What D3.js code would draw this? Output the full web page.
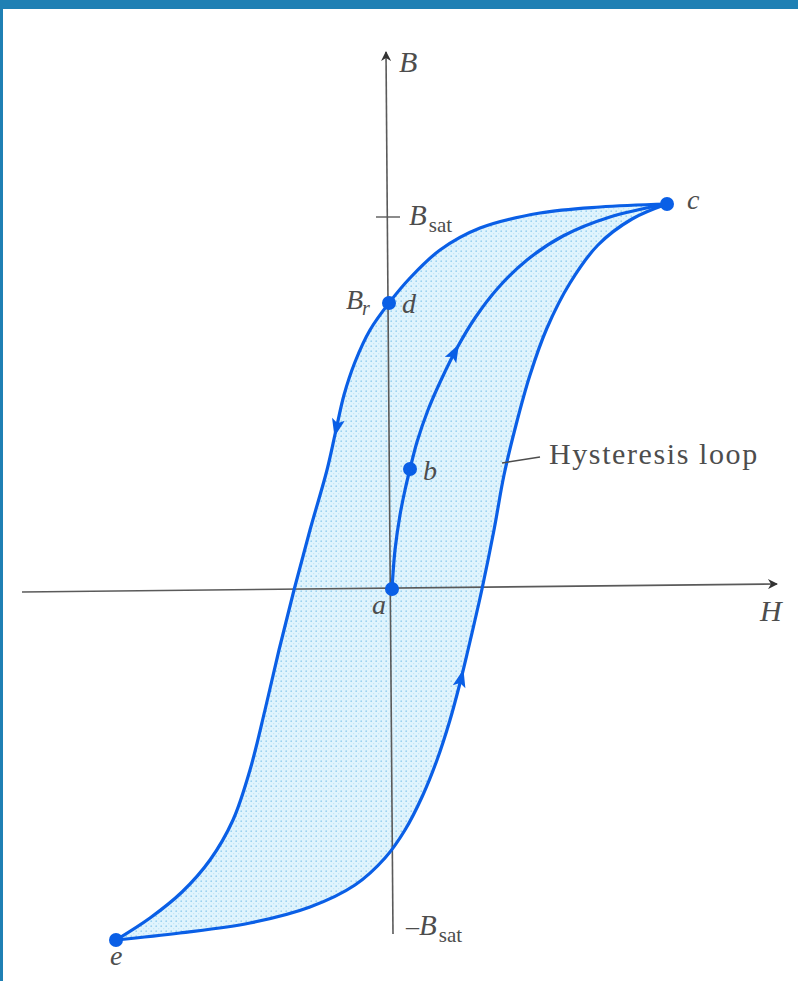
<!DOCTYPE html>
<html><head><meta charset="utf-8">
<script src="https://cdn.jsdelivr.net/npm/d3@7/dist/d3.min.js"></script>
<style>body{margin:0;background:#fff}svg{display:block}</style>
</head><body>
<script>
// Data (H, B) in arbitrary units
const descending = [[2.75,3.85],[2.08,3.82],[1.48,3.76],[0.88,3.61],[0.48,3.39],[0.18,3.11],[-0.03,2.86],[-0.22,2.59],[-0.37,2.27],[-0.48,1.94],[-0.56,1.59],[-0.65,1.19],[-0.82,0.59],[-0.98,-0.01],[-1.13,-0.61],[-1.27,-1.21],[-1.42,-1.81],[-1.59,-2.31],[-1.82,-2.71],[-2.10,-3.03],[-2.42,-3.29],[-2.76,-3.51]];
const ascending = [[-2.76,-3.51],[-2.12,-3.44],[-1.42,-3.34],[-0.82,-3.18],[-0.37,-2.96],[-0.07,-2.69],[0.13,-2.41],[0.30,-2.08],[0.45,-1.71],[0.58,-1.31],[0.68,-0.94],[0.76,-0.61],[0.83,-0.31],[0.90,0.0],[1.02,0.59],[1.12,1.14],[1.24,1.64],[1.38,2.14],[1.55,2.61],[1.78,3.06],[2.06,3.44],[2.40,3.70],[2.75,3.85]];
const initial = [[0,0],[0.03,0.39],[0.08,0.74],[0.13,0.99],[0.18,1.20],[0.25,1.47],[0.36,1.79],[0.50,2.11],[0.65,2.41],[0.83,2.71],[1.06,3.01],[1.35,3.29],[1.71,3.53],[2.18,3.72],[2.75,3.85]];
const points = [
  {name:"a", H:0, B:0},
  {name:"b", H:0.18, B:1.20},
  {name:"c", H:2.75, B:3.85},
  {name:"d", H:-0.03, B:2.86},
  {name:"e", H:-2.76, B:-3.51}
];
const Bsat = 3.72;
const arrowsAt = [ {curve:"descending", H:-0.55, B:1.61}, {curve:"initial", H:0.63, B:2.37}, {curve:"ascending", H:0.70, B:-0.89} ];
const hAxis = [[-3.70,-0.03],[3.85,0.05]];
const bAxis = [[-0.06,5.37],[0.01,-3.45]];

const W = 798, Hh = 981;
const x = d3.scaleLinear().domain([0,1]).range([392,492]);
const y = d3.scaleLinear().domain([0,1]).range([589,489]);

const svg = d3.select("body").append("svg").attr("width",W).attr("height",Hh);
const defs = svg.append("defs");
const pat = defs.append("pattern").attr("id","dots").attr("patternUnits","userSpaceOnUse").attr("width",5).attr("height",5);
pat.append("rect").attr("width",5).attr("height",5).attr("fill","#e0f4fd");
pat.append("circle").attr("cx",1.2).attr("cy",1.2).attr("r",0.85).attr("fill","#98d0f0");
pat.append("circle").attr("cx",3.7).attr("cy",3.7).attr("r",0.6).attr("fill","#bce3f6");

// frame
svg.append("rect").attr("x",0).attr("y",0).attr("width",W).attr("height",9).attr("fill","#1f80b4");
svg.append("rect").attr("x",0).attr("y",0).attr("width",3).attr("height",Hh).attr("fill","#1f80b4");

const line = d3.line().x(d=>x(d[0])).y(d=>y(d[1])).curve(d3.curveCatmullRom.alpha(0.5));

// fill
svg.append("path").attr("d", line(descending) + line(ascending).replace(/^M/,"L") + "Z")
  .attr("fill","url(#dots)").attr("stroke","none");

// axes
const axisColor = "#5a5a5a";
defs.append("marker").attr("id","ah").attr("viewBox","0 0 10 10").attr("refX",9).attr("refY",5)
  .attr("markerWidth",14).attr("markerHeight",10).attr("markerUnits","userSpaceOnUse").attr("orient","auto")
  .append("path").attr("d","M0,0 L10,5 L0,10 L3,5 Z").attr("fill","#333");
svg.append("line").attr("x1",x(hAxis[0][0])).attr("y1",y(hAxis[0][1])).attr("x2",x(hAxis[1][0])).attr("y2",y(hAxis[1][1]))
  .attr("stroke",axisColor).attr("stroke-width",1.6).attr("marker-end","url(#ah)");
svg.append("line").attr("x1",x(bAxis[1][0])).attr("y1",y(bAxis[1][1])).attr("x2",x(bAxis[0][0])).attr("y2",y(bAxis[0][1]))
  .attr("stroke",axisColor).attr("stroke-width",1.6).attr("marker-end","url(#ah)");
// Bsat tick
svg.append("line").attr("x1",x(-0.16)).attr("x2",x(0.08)).attr("y1",y(Bsat)).attr("y2",y(Bsat)).attr("stroke",axisColor).attr("stroke-width",1.4);

// curves
const blue = "#0a5fe6";
const curves = {descending, ascending, initial};
const paths = {};
for (const k of Object.keys(curves)) {
  paths[k] = svg.append("path").attr("d", line(curves[k])).attr("fill","none").attr("stroke",blue).attr("stroke-width",3.2).attr("stroke-linecap","round");
}
// arrows along curves
arrowsAt.forEach(a => {
  const p = paths[a.curve].node();
  const L = p.getTotalLength();
  let best = 0, bd = 1e9;
  for (let s = 0; s <= L; s += 1) {
    const q = p.getPointAtLength(s);
    const dd = (q.x - x(a.H))**2 + (q.y - y(a.B))**2;
    if (dd < bd) { bd = dd; best = s; }
  }
  const p0 = p.getPointAtLength(Math.max(0,best-3)), p1 = p.getPointAtLength(Math.min(L,best+3));
  let ang = Math.atan2(p1.y-p0.y, p1.x-p0.x) * 180/Math.PI;
  const c = p.getPointAtLength(best);
  svg.append("path").attr("d","M9,0 L-9,-6.5 L-5,0 L-9,6.5 Z").attr("fill",blue)
    .attr("transform",`translate(${c.x},${c.y}) rotate(${ang})`);
});

// points
svg.selectAll("circle.pt").data(points).join("circle").attr("class","pt")
  .attr("cx",d=>x(d.H)).attr("cy",d=>y(d.B)).attr("r",7).attr("fill",blue);

// labels
const serif = "'Liberation Serif','DejaVu Serif',serif";
const tc = "#4d4d4d";
function txt(xp, yp, s, size, italic, anchor) {
  return svg.append("text").attr("x",xp).attr("y",yp).attr("font-family",serif).attr("font-size",size)
    .attr("font-style",italic?"italic":"normal").attr("fill",tc).attr("text-anchor",anchor||"start").text(s);
}
txt(x(0.07), y(5.17), "B", 30, true);
const bs = svg.append("text").attr("x",x(0.17)).attr("y",y(3.64)).attr("font-family",serif).attr("fill",tc);
bs.append("tspan").attr("font-style","italic").attr("font-size",29).text("B");
bs.append("tspan").attr("font-size",21).attr("dy",7).attr("dx",2).text("sat");
const br = svg.append("text").attr("x",x(-0.46)).attr("y",y(2.8)).attr("font-family",serif).attr("fill",tc);
br.append("tspan").attr("font-style","italic").attr("font-size",28).text("B");
br.append("tspan").attr("font-style","italic").attr("font-size",20).attr("dy",6).attr("dx",-1).text("r");
const nb = svg.append("text").attr("x",x(0.14)).attr("y",y(-3.46)).attr("font-family",serif).attr("fill",tc);
nb.append("tspan").attr("font-size",26).text("\u2013");
nb.append("tspan").attr("font-style","italic").attr("font-size",29).text("B");
nb.append("tspan").attr("font-size",21).attr("dy",7).attr("dx",2).text("sat");
txt(x(0.10), y(2.76), "d", 28, true);
txt(x(2.95), y(3.80), "c", 28, true);
txt(x(0.31), y(1.09), "b", 28, true);
txt(x(-0.20), y(-0.25), "a", 28, true);
txt(x(3.68), y(-0.32), "H", 30, true);
txt(x(-2.82), y(-3.76), "e", 28, true);
txt(x(1.57), y(1.25), "Hysteresis loop", 30, false).attr("letter-spacing",1.6);
svg.append("line").attr("x1",x(1.10)).attr("y1",y(1.26)).attr("x2",x(1.48)).attr("y2",y(1.32)).attr("stroke",tc).attr("stroke-width",1.5);
</script>
</body></html>
